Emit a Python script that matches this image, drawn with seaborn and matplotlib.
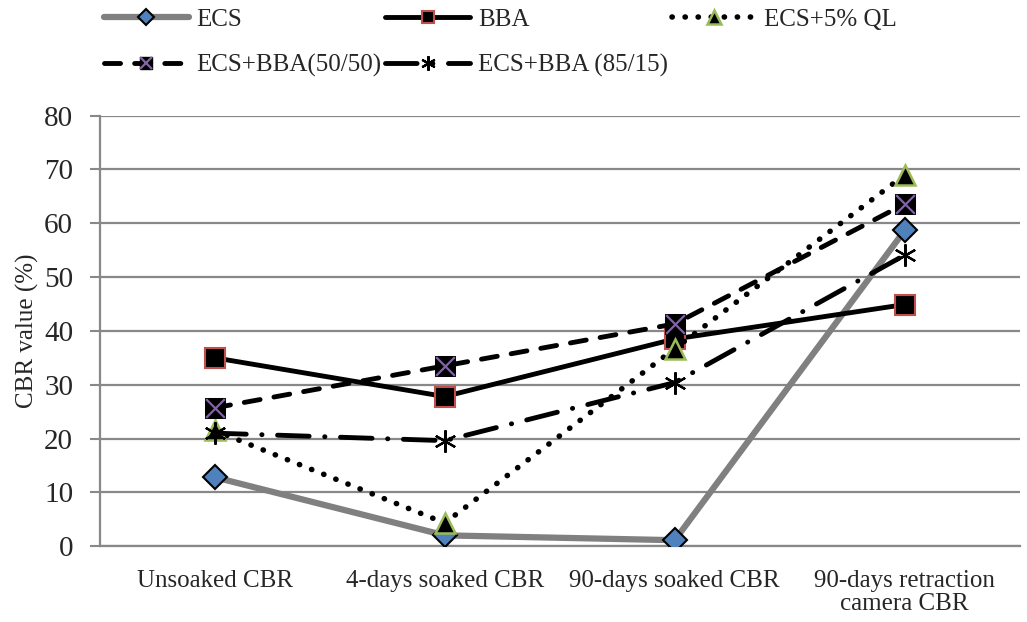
import pandas as pd
import numpy as np
import matplotlib
matplotlib.use("Agg")
import matplotlib.pyplot as plt
import seaborn as sns
from matplotlib.lines import Line2D
from matplotlib.legend_handler import HandlerTuple

stages = ["Unsoaked CBR", "4-days soaked CBR", "90-days soaked CBR",
          "90-days retraction\ncamera CBR"]
ecs = [12.8, 2.0, 1.1, 58.7]
bba = [35.0, 27.8, 38.5, 44.9]
ecs_ql = [21.5, 4.3, 36.7, 69.0]
ecs_bba_50 = [25.7, 33.5, 41.3, 63.6]
ecs_bba_85 = [21.0, 19.6, 30.4, 54.1]

df = pd.DataFrame({"stage": stages, "ECS": ecs, "BBA": bba,
                   "ECS+5% QL": ecs_ql, "ECS+BBA(50/50)": ecs_bba_50,
                   "ECS+BBA (85/15)": ecs_bba_85})

sns.set_style("white")
plt.rcParams["font.family"] = ["Liberation Serif", "DejaVu Serif"]

# styles per series
st_ecs = dict(color="#808080", linewidth=4.5, marker="D", markersize=12,
              markerfacecolor="#4F81BD", markeredgecolor="black", markeredgewidth=1.5)
st_bba = dict(color="black", linewidth=3.5, marker="s", markersize=14,
              markerfacecolor="black", markeredgecolor="#C0504D", markeredgewidth=1.5)
st_ql = dict(color="black", linewidth=4, linestyle=(0, (0.05, 2.3)), dash_capstyle="round",
             marker="^", markersize=15, markerfacecolor="black",
             markeredgecolor="#9BBB59", markeredgewidth=1.8)
st_50 = dict(color="black", linewidth=3.5, linestyle=(0, (3.3, 2.9)), dash_capstyle="round",
             marker="s", markersize=14, markerfacecolor="black", markeredgecolor="black")
st_85 = dict(color="black", linewidth=3.5, linestyle=(0, (6.5, 3.2, 0.05, 3.2)),
             dash_capstyle="round", marker=(6, 2, 0), markersize=16,
             markeredgecolor="black", markeredgewidth=1.6)

fig = plt.figure(figsize=(10.27, 6.22), dpi=100)
ax = fig.add_axes([0.097, 0.122, 0.896, 0.692])

sns.lineplot(data=df, x="stage", y="ECS", ax=ax, sort=False, zorder=3, **st_ecs)
sns.lineplot(data=df, x="stage", y="BBA", ax=ax, sort=False, zorder=4, **st_bba)
sns.lineplot(data=df, x="stage", y="ECS+5% QL", ax=ax, sort=False, zorder=5, **st_ql)
sns.lineplot(data=df, x="stage", y="ECS+BBA(50/50)", ax=ax, sort=False, zorder=6, **st_50)
sns.scatterplot(data=df, x="stage", y="ECS+BBA(50/50)", ax=ax, marker="x", s=180,
                color="#8064A2", linewidth=1.6, zorder=7)
sns.lineplot(data=df, x="stage", y="ECS+BBA (85/15)", ax=ax, sort=False, zorder=8, **st_85)

ax.set_xlim(-0.5, 3.5)
ax.set_ylim(0, 80)
ax.set_yticks(np.arange(0, 81, 10))
ax.set_xticks(range(len(stages)))
ax.set_xticklabels(stages, fontsize=18, linespacing=1.05)
ax.set_xticks(np.arange(-0.5, 3.6, 1), minor=True)
ax.tick_params(axis="x", which="major", length=0, pad=17)
ax.tick_params(axis="x", which="minor", length=7, width=1.5, color="#888888", direction="out")
ax.tick_params(axis="y", labelsize=21, length=7, width=1.5, color="#888888",
               direction="out", left=True, pad=12)
ax.set_xlabel("")
ax.set_ylabel("CBR value (%)", fontsize=18, labelpad=4)
ax.yaxis.grid(True, color="#888888", linewidth=1.6)
ax.set_axisbelow(True)
for side in ["top", "right"]:
    ax.spines[side].set_visible(False)
for side in ["left", "bottom"]:
    ax.spines[side].set_color("#888888")
    ax.spines[side].set_linewidth(1.6)

h_ecs = Line2D([], [], **st_ecs)
h_bba = Line2D([], [], **st_bba)
h_ql = Line2D([], [], **st_ql)
h_50 = (Line2D([], [], **st_50),
        Line2D([], [], linestyle="none", marker="x", markersize=13,
               color="#8064A2", markeredgewidth=1.6))
h_85 = Line2D([], [], **st_85)

# row-major order for a 3-column legend
fig.legend([h_ecs, h_50, h_bba, h_85, h_ql],
           ["ECS", "ECS+BBA(50/50)", "BBA", "ECS+BBA (85/15)", "ECS+5% QL"],
           handler_map={tuple: HandlerTuple(ndivide=1)},
           loc="upper left", bbox_to_anchor=(0.1, 0.988), ncol=3,
           frameon=False, fontsize=18, handlelength=3.4, handletextpad=0.3,
           columnspacing=0.15, labelspacing=0.9, markerscale=0.65,
           borderpad=0.05, borderaxespad=0)

fig.savefig("out.png", dpi=100)
